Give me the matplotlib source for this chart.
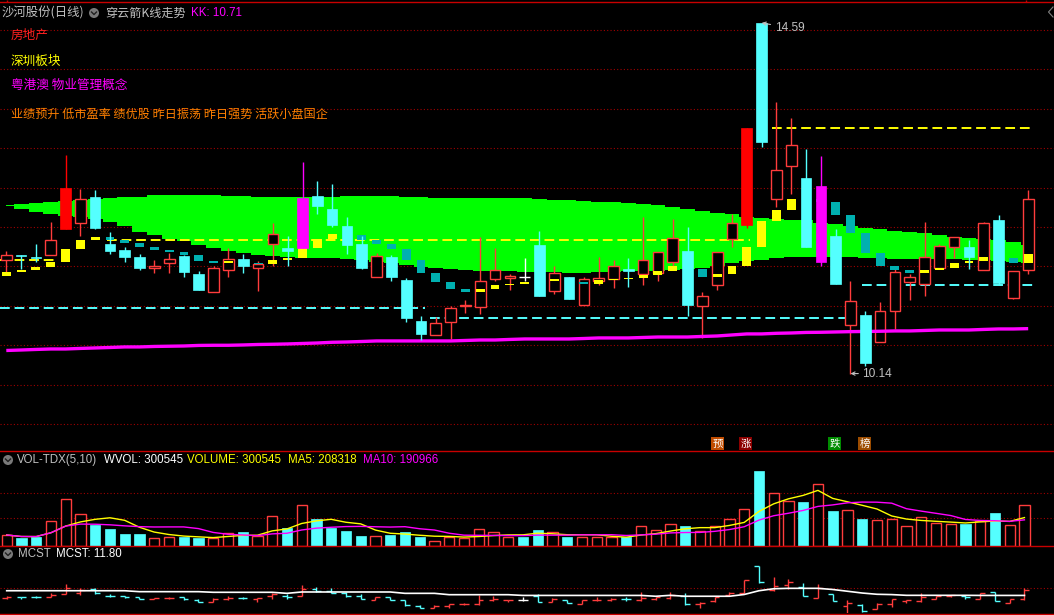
import numpy as np
import pandas as pd
import matplotlib
matplotlib.use("Agg")
import matplotlib.pyplot as plt
from matplotlib.patches import Rectangle, Circle

plt.rcParams['font.family'] = ['Noto Sans CJK SC', 'DejaVu Sans']

# daily bars, 70 sessions
OPEN = [11.58, 11.65, 11.62, 11.64, 11.98, 12.05, 12.38, 11.78, 11.71, 11.62,
        11.48, 11.54, 11.63, 11.40, 11.18, 11.46, 11.59, 11.48, 11.79, 11.73,
        11.73, 12.39, 12.23, 12.01, 11.78, 11.36, 11.62, 11.33, 10.81, 10.63,
        10.79, 11.00, 10.99, 11.34, 11.35, 11.36, 11.77, 11.19, 11.37, 11.01,
        11.32, 11.34, 11.47, 11.40, 11.41, 11.55, 11.70, 11.00, 11.27, 11.85,
        12.02, 14.59, 12.36, 12.77, 12.62, 11.55, 11.89, 10.75, 10.88, 10.54,
        10.94, 11.30, 11.28, 11.48, 11.74, 11.74, 11.46, 12.09, 11.10, 11.46]
HIGH = [11.70, 11.65, 11.78, 12.06, 12.91, 12.48, 12.47, 11.94, 11.74, 11.66,
        11.58, 11.67, 11.65, 11.44, 11.51, 11.73, 11.66, 11.57, 12.05, 11.89,
        12.83, 12.58, 12.55, 12.13, 11.89, 11.67, 11.64, 11.35, 10.87, 10.86,
        11.00, 11.07, 11.87, 11.73, 11.40, 11.61, 11.95, 11.51, 11.37, 11.36,
        11.62, 11.58, 11.61, 12.13, 11.68, 12.10, 12.00, 11.18, 11.68, 12.17,
        13.26, 14.59, 13.58, 13.38, 12.99, 12.90, 11.98, 11.32, 10.94, 11.05,
        11.48, 11.40, 12.06, 11.78, 11.87, 11.84, 12.06, 12.15, 11.44, 12.47]
LOW = [11.42, 11.47, 11.56, 11.64, 11.98, 11.88, 11.97, 11.66, 11.56, 11.46,
       11.41, 11.42, 11.37, 11.20, 11.18, 11.37, 11.41, 11.19, 11.50, 11.50,
       11.73, 12.17, 12.00, 11.66, 11.47, 11.36, 11.32, 10.79, 10.56, 10.63,
       10.58, 10.91, 10.90, 11.31, 11.20, 11.31, 11.13, 11.15, 11.09, 11.01,
       11.27, 11.23, 11.24, 11.26, 11.32, 11.48, 10.87, 10.59, 11.20, 11.74,
       11.99, 13.02, 12.25, 12.42, 11.75, 11.51, 11.28, 10.14, 10.23, 10.54,
       10.71, 11.07, 11.13, 11.48, 11.61, 11.47, 11.46, 11.27, 11.09, 11.40]
CLOSE = [11.64, 11.63, 11.61, 11.83, 12.49, 12.35, 11.99, 11.70, 11.62, 11.48,
         11.51, 11.60, 11.43, 11.20, 11.48, 11.60, 11.51, 11.53, 11.91, 11.69,
         12.37, 12.27, 12.03, 11.77, 11.48, 11.63, 11.37, 10.85, 10.64, 10.78,
         10.97, 11.01, 11.32, 11.45, 11.38, 11.36, 11.13, 11.41, 11.09, 11.34,
         11.35, 11.50, 11.44, 11.58, 11.68, 11.86, 11.01, 11.12, 11.68, 12.05,
         13.26, 13.08, 12.72, 13.04, 11.75, 12.52, 11.28, 11.06, 10.28, 10.94,
         11.43, 11.36, 11.62, 11.76, 11.87, 11.62, 12.05, 11.29, 11.44, 12.35]
VOLUME = [81200, 59100, 68700, 182400, 344800, 234100, 155100, 125500, 88600, 88600,
          56900, 64200, 68700, 59100, 61300, 98200, 103400, 76100, 219300, 132900,
          300500, 199400, 132900, 110800, 73800, 71600, 81200, 103400, 66500, 39100,
          64200, 56900, 123300, 101200, 64200, 66500, 118100, 101200, 66500, 64200,
          64200, 64200, 66500, 145500, 115900, 160200, 147700, 108500, 145500, 197200,
          271000, 553800, 389100, 330100, 324900, 455600, 258400, 263600, 199400, 189800,
          197200, 145500, 211900, 167600, 160200, 164700, 186800, 243700, 152900, 300545]

# indicator: green cloud
BAND_TOP = [12.280, 12.286, 12.299, 12.311, 12.324, 12.343, 12.356, 12.368, 12.381, 12.387,
            12.400, 12.406, 12.406, 12.406, 12.400, 12.394, 12.394, 12.387, 12.381, 12.381,
            12.381, 12.375, 12.375, 12.394, 12.394, 12.394, 12.394, 12.381, 12.381, 12.368,
            12.368, 12.368, 12.368, 12.368, 12.368, 12.362, 12.356, 12.343, 12.343, 12.330,
            12.318, 12.318, 12.305, 12.286, 12.273, 12.254, 12.229, 12.203, 12.178, 12.162,
            12.131, 12.115, 12.102, 12.089, 12.083, 12.055, 12.038, 12.013, 11.991, 11.975,
            11.950, 11.931, 11.918, 11.899, 11.877, 11.861, 11.844, 11.832, 11.804, 11.772]
BAND_BOTTOM = [12.267, 12.225, 12.191, 12.159, 12.140, 12.123, 12.096, 12.064, 12.013, 11.941,
               11.893, 11.848, 11.816, 11.768, 11.730, 11.700, 11.674, 11.645, 11.629, 11.613,
               11.607, 11.603, 11.601, 11.594, 11.582, 11.560, 11.544, 11.518, 11.497, 11.480,
               11.468, 11.455, 11.442, 11.442, 11.436, 11.429, 11.429, 11.423, 11.417, 11.417,
               11.423, 11.429, 11.436, 11.442, 11.442, 11.455, 11.468, 11.476, 11.505, 11.537,
               11.563, 11.582, 11.601, 11.613, 11.620, 11.624, 11.624, 11.616, 11.607, 11.601,
               11.594, 11.594, 11.594, 11.592, 11.589, 11.587, 11.582, 11.569, 11.556, 11.540]
# short average drawn as yellow/teal blocks (first value = day before the window)
STEP_MA = [11.378, 11.429, 11.455, 11.493, 11.556, 11.721, 11.835, 11.870, 11.835, 11.797, 11.750,
           11.712, 11.687, 11.649, 11.573, 11.547, 11.563, 11.544, 11.531, 11.582, 11.611,
           11.734, 11.848, 11.912, 11.899, 11.835, 11.788, 11.721, 11.585, 11.420, 11.306,
           11.217, 11.179, 11.214, 11.264, 11.277, 11.302, 11.319, 11.337, 11.302, 11.281,
           11.324, 11.337, 11.353, 11.395, 11.436, 11.505, 11.464, 11.370, 11.404, 11.505,
           11.747, 12.077, 12.216, 12.356, 12.356, 12.318, 12.156, 11.920, 11.667, 11.509,
           11.451, 11.417, 11.455, 11.484, 11.544, 11.569, 11.620, 11.607, 11.547, 11.658]
# KK line
KK = [10.433, 10.439, 10.446, 10.452, 10.452, 10.459, 10.465, 10.471, 10.478, 10.478,
      10.484, 10.487, 10.490, 10.497, 10.499, 10.499, 10.503, 10.509, 10.512, 10.516,
      10.522, 10.528, 10.537, 10.541, 10.547, 10.554, 10.554, 10.554, 10.554, 10.554,
      10.554, 10.560, 10.566, 10.566, 10.573, 10.579, 10.579, 10.579, 10.579, 10.585,
      10.592, 10.592, 10.592, 10.598, 10.604, 10.604, 10.604, 10.611, 10.617, 10.630,
      10.643, 10.643, 10.651, 10.655, 10.662, 10.664, 10.668, 10.672, 10.674, 10.677,
      10.681, 10.681, 10.687, 10.693, 10.693, 10.693, 10.700, 10.706, 10.706, 10.710]
# dashed support / pressure levels: level, first bar, last bar
LEVELS = [11.58, 11.84, 13.26, 10.97, 10.84, 11.27]
LEVEL_FROM = [-0.4, 6.8, 51.7, -0.4, 28.6, 57.8]
LEVEL_TO = [3.5, 50.2, 69.3, 28.3, 57.3, 69.3]
LEVEL_KIND = ['y', 'y', 'y', 'c', 'c', 'c']
# signal bars painted by the indicator
SIGNAL_BARS = [4, 20, 50, 55]
SIGNAL_KIND = ['r', 'm', 'r', 'm']

MCST = [12.25] * 9 + [12.16] * 5 + [12.10] * 5 + [12.00] + [12.13] * 7 + [12.00] * 3 + \
       [11.87] * 5 + [11.80] * 9 + [11.72, 11.81] + [11.72] * 4 + [11.89, 12.25, 12.44] + \
       [12.48] * 3 + [12.37, 12.20, 12.03, 11.91, 11.88] + [11.81] * 5 + [11.80] * 4

TAGS = ['预', '涨', '跌', '榜']

RED = '#ff3c3c'
CYAN = '#54ffff'
TEAL = '#00b0b0'
YELLOW = '#ffff00'
MAGENTA = '#ff00ff'
GRAY = '#c0c0c0'
GRID = '#a00000'
FRAME = '#c80000'
LATIN = ['Liberation Sans', 'Noto Sans CJK SC']
CJK = ['Noto Sans CJK SC', 'DejaVu Sans']
DOT = (0, (1, 2))

fig = plt.figure(figsize=(10.54, 6.15), dpi=100, facecolor='black')


def panel(top, bottom, step, first):
    a = fig.add_axes([0, 1 - bottom / 615, 1, (bottom - top) / 615])
    a.set_xlim(-first / step, (1054 - first) / step)
    a.axis('off')
    return a


o, h, l, c = map(np.array, (OPEN, HIGH, LOW, CLOSE))
x = np.arange(len(o))
signal = dict(zip(SIGNAL_BARS, SIGNAL_KIND))
sig_color = {'r': '#ff0000', 'm': MAGENTA}

# ---------------- main panel ----------------
ax = panel(3, 448, 14.81, 6.3)
ax.set_ylim(9.1954, 14.8426)
for lvl in np.arange(9.5, 14.51, 0.5):
    ax.axhline(lvl, color=GRID, lw=0.8, ls=DOT, zorder=0)

ax.fill_between(x, BAND_BOTTOM, BAND_TOP, step='mid', color='#00ff00', lw=0, zorder=1)

for lvl, a0, a1, kind in zip(LEVELS, LEVEL_FROM, LEVEL_TO, LEVEL_KIND):
    ax.hlines(lvl, a0, a1, colors=YELLOW if kind == 'y' else CYAN, lw=1.4,
              linestyles=(0, (5, 2.5)), zorder=1.5)

W = 0.72
for i in x:
    if i in signal:
        col = sig_color[signal[i]]
        ax.vlines(i, l[i], h[i], color=col, lw=1, zorder=4)
        ax.add_patch(Rectangle((i - W / 2, min(o[i], c[i])), W, abs(c[i] - o[i]),
                               facecolor=col, edgecolor=col, lw=0.5, zorder=4.1))
    elif c[i] > o[i]:
        ax.vlines(i, l[i], h[i], color=RED, lw=1, zorder=2)
        ax.add_patch(Rectangle((i - W / 2, o[i]), W, c[i] - o[i],
                               facecolor='black', edgecolor=RED, lw=1, zorder=2.1))
    elif c[i] < o[i]:
        ax.vlines(i, l[i], h[i], color=CYAN, lw=1, zorder=4)
        ax.add_patch(Rectangle((i - W / 2, c[i]), W, o[i] - c[i],
                               facecolor=CYAN, edgecolor=CYAN, lw=0.5, zorder=4.1))
    else:
        ax.vlines(i, l[i], h[i], color='white', lw=1, zorder=4)
        ax.hlines(c[i], i - W / 2, i + W / 2, color='white', lw=1, zorder=4)

sm = np.array(STEP_MA)
BW = 0.6
for i in x:
    a0, a1 = sm[i], sm[i + 1]
    if a1 == a0:
        continue
    ax.add_patch(Rectangle((i - BW / 2, min(a0, a1)), BW, abs(a1 - a0),
                           facecolor=YELLOW if a1 > a0 else TEAL, lw=0, zorder=3))

ax.plot(x, KK, color=MAGENTA, lw=2.4, zorder=3.5, solid_capstyle='butt')

hi, lo = int(np.argmax(h)), int(np.argmin(l))
arrow = dict(arrowstyle='->', color=GRAY, lw=0.8, shrinkA=1, shrinkB=0, mutation_scale=6)
ax.annotate(f'{h[hi]:.2f}', xy=(hi, h[hi]), xytext=(13, -5), textcoords='offset pixels',
            color=GRAY, fontsize=8.6, family=LATIN, va='center', ha='left',
            arrowprops=arrow, zorder=6)
ax.annotate(f'{l[lo]:.2f}', xy=(lo, l[lo]), xytext=(12, 0), textcoords='offset pixels',
            color=GRAY, fontsize=8.6, family=LATIN, va='center', ha='left',
            arrowprops=arrow, zorder=6)

# ---------------- volume panel ----------------
vx = panel(451, 546, 14.75, 6.7)
vx.set_ylim(0, 701480)
for lvl in (206000, 394000):
    vx.axhline(lvl, color=GRID, lw=0.8, ls=DOT, zorder=0)
vol = np.array(VOLUME)
for i in x:
    if c[i] > o[i]:
        vx.add_patch(Rectangle((i - 0.35, 0), 0.7, vol[i], facecolor='black',
                               edgecolor=RED, lw=1, zorder=2))
    else:
        vx.add_patch(Rectangle((i - 0.35, 0), 0.7, vol[i], facecolor=CYAN,
                               edgecolor=CYAN, lw=0.5, zorder=2))
ma5 = pd.Series(vol).rolling(5, min_periods=1).mean()
ma10 = pd.Series(vol).rolling(10, min_periods=1).mean()
vx.plot(x, ma5, color=YELLOW, lw=1, zorder=3)
vx.plot(x, ma10, color=MAGENTA, lw=1, zorder=3)

# ---------------- MCST panel ----------------
mx = panel(547, 613, 14.75, 6.7)
mx.set_ylim(10.115, 16.443)
mx.axhline(12.483, color=GRID, lw=0.8, ls=DOT, zorder=0)
for i in x:
    col = RED if c[i] > o[i] else (CYAN if c[i] < o[i] else 'white')
    mx.vlines(i, l[i], h[i], color=col, lw=1, zorder=2)
    mx.hlines(o[i], i - 0.32, i, color=col, lw=1, zorder=2)
    mx.hlines(c[i], i, i + 0.32, color=col, lw=1, zorder=2)
mx.plot(x, MCST, color='white', lw=1.2, zorder=3)

# ---------------- frame, titles, tags ----------------
ov = fig.add_axes([0, 0, 1, 1])
ov.set_xlim(0, 1054)
ov.set_ylim(615, 0)
ov.axis('off')
ov.set_zorder(10)
for yy in (1.5, 451, 546, 613.5):
    ov.axhline(yy, color=FRAME, lw=1)
ov.vlines([7, 1026], 0, 2, color=FRAME, lw=1)
ov.plot([1053, 1048.5, 1053], [7, 12, 17], color='#808080', lw=0.8)


def icon(cx, cy):
    ov.add_patch(Circle((cx, cy), 5, facecolor='#7a7a7a', edgecolor='none'))
    ov.plot([cx - 2.5, cx, cx + 2.5], [cy - 1, cy + 1.5, cy - 1], color='#202020', lw=1)


def label(xp, yp, s, col, fam=CJK, size=9.1):
    ov.text(xp, yp, s, color=col, fontsize=size, va='center', ha='left', family=fam)


label(2, 13, '沙河股份(日线)', GRAY, size=8.9)
icon(94, 13)
label(105, 13, '穿云箭K线走势', GRAY, size=8.7)
label(191, 13, 'KK: 10.71', MAGENTA, LATIN, 8.4)
label(11, 35, '房地产', '#ff2020')
label(11, 61, '深圳板块', YELLOW)
label(11, 85, '粤港澳 物业管理概念', MAGENTA)
label(11, 114.5, '业绩预升 低市盈率 绩优股 昨日振荡 昨日强势 活跃小盘国企', '#ff8000', size=8.7)

icon(8, 460)
label(17, 460, 'VOL-TDX(5,10)', GRAY, LATIN, 8.3)
label(104, 460, 'WVOL: 300545', 'white', LATIN, 8.3)
label(187, 460, 'VOLUME: 300545', YELLOW, LATIN, 8.3)
label(288, 460, 'MA5: 208318', YELLOW, LATIN, 8.3)
label(363, 460, 'MA10: 190966', MAGENTA, LATIN, 8.3)

icon(8, 554)
label(18, 554, 'MCST', GRAY, LATIN, 8.3)
label(56, 554, 'MCST: 11.80', 'white', LATIN, 8.3)

tag_x = [711, 739, 828, 858]
tag_bg = ['#c04c00', '#8c0000', '#008c00', '#9c4c00']
for tx, bg, t in zip(tag_x, tag_bg, TAGS):
    ov.add_patch(Rectangle((tx, 437), 13, 13, facecolor=bg, edgecolor='none'))
    ov.text(tx + 6.5, 443.5, t, color='white', fontsize=7.5, ha='center', va='center',
            family=CJK)

fig.savefig('out.png', dpi=100, facecolor='black')
